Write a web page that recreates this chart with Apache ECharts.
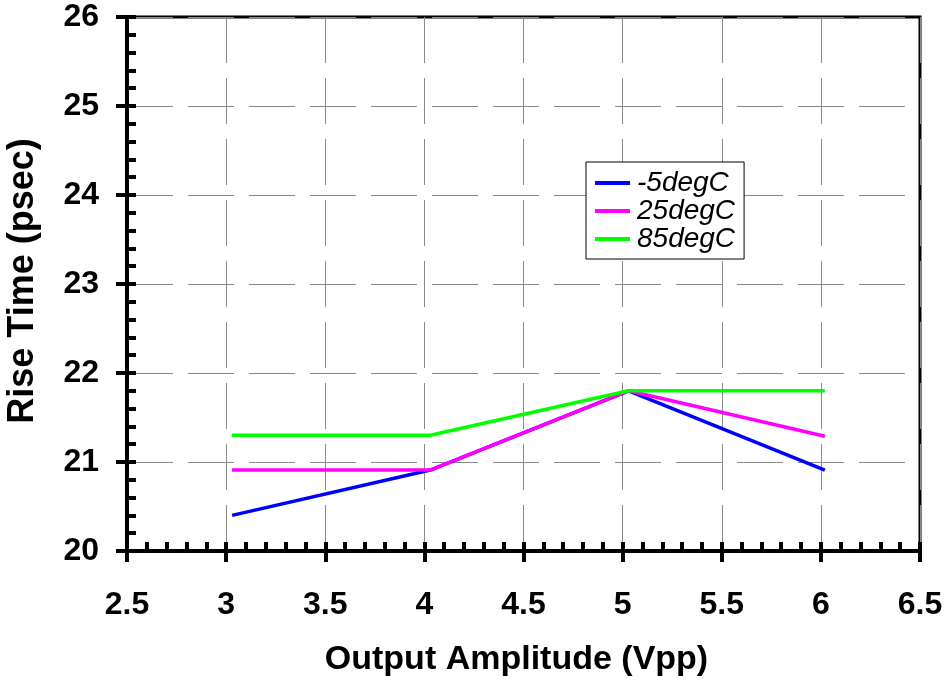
<!DOCTYPE html>
<html>
<head>
<meta charset="utf-8">
<script src="https://cdn.jsdelivr.net/npm/echarts@6/dist/echarts.min.js"></script>
<style>
  html, body { margin: 0; padding: 0; background: #fff; }
  #chart { width: 947px; height: 688px; }
</style>
</head>
<body>
<div id="chart"></div>
<script>
// Rise time vs. output amplitude at three temperatures
const amplitude = [3.03, 4.03, 5.03, 6.02];
const seriesNames = ['-5degC', '25degC', '85degC'];
const riseMinus5 = [20.40, 20.91, 21.80, 20.91];
const rise25 = [20.91, 20.91, 21.80, 21.29];
const rise85 = [21.30, 21.30, 21.80, 21.80];
const seriesColors = ['#0000ff', '#ff00ff', '#00ff00'];

const FONT = '"Liberation Sans", Arial, sans-serif';
const chart = echarts.init(document.getElementById('chart'), null, { renderer: 'canvas' });

function pairs(xs, ys) { return xs.map((x, i) => [x, ys[i]]); }

const gridSplit = { show: true, lineStyle: { color: '#8a8a8a', width: 1, type: [46, 15] } };

const option = {
  backgroundColor: '#ffffff',
  animation: false,
  grid: {
    left: 127, right: 27, top: 17, bottom: 137,
    containLabel: false, outerBoundsMode: 'none',
    show: true, borderColor: '#000', borderWidth: 3, backgroundColor: 'transparent'
  },
  legend: {
    orient: 'vertical',
    left: 586, top: 162,
    data: seriesNames,
    icon: 'rect',
    itemWidth: 35, itemHeight: 4,
    itemGap: 0,
    padding: [7, 9, 6, 9],
    backgroundColor: '#fff',
    borderColor: '#000', borderWidth: 1, borderRadius: 0,
    textStyle: { fontFamily: FONT, fontStyle: 'italic', fontSize: 28, color: '#000', lineHeight: 27.5, padding: [0, 0, 0, 2] }
  },
  xAxis: [
    {
      type: 'value', min: 2.5, max: 6.5, interval: 0.5,
      name: 'Output Amplitude (Vpp)', nameLocation: 'middle', nameGap: 92,
      nameTextStyle: { fontFamily: FONT, fontWeight: 'bold', fontSize: 34, color: '#000', padding: [0, 14, 0, 0] },
      axisLine: { show: true, onZero: false, lineStyle: { color: '#000', width: 4 } },
      axisTick: { show: true, inside: true, length: 9, lineStyle: { color: '#000', width: 4 } },
      minorTick: { show: true, splitNumber: 5, length: 9, lineStyle: { color: '#000', width: 4 } },
      axisLabel: { show: true, margin: 38, fontFamily: FONT, fontWeight: 'bold', fontSize: 32, color: '#000',
        formatter: v => String(+v.toFixed(1)) },
      splitLine: gridSplit
    },
    {
      type: 'value', min: 2.5, max: 6.5, interval: 0.5, position: 'bottom',
      axisLine: { show: false, onZero: false },
      axisTick: { show: true, inside: false, length: 11, lineStyle: { color: '#000', width: 4 } },
      axisLabel: { show: false }, splitLine: { show: false }
    }
  ],
  yAxis: [
    {
      type: 'value', min: 20, max: 26, interval: 1,
      name: 'Rise Time (psec)', nameLocation: 'middle', nameGap: 86, nameRotate: 90,
      nameTextStyle: { fontFamily: FONT, fontWeight: 'bold', fontSize: 36, color: '#000', padding: [0, 0, 0, 6] },
      axisLine: { show: true, onZero: false, lineStyle: { color: '#000', width: 4 } },
      axisTick: { show: true, inside: true, length: 9, lineStyle: { color: '#000', width: 4 } },
      minorTick: { show: true, splitNumber: 5, length: 9, lineStyle: { color: '#000', width: 4 } },
      axisLabel: { show: true, margin: 28, fontFamily: FONT, fontWeight: 'bold', fontSize: 32, color: '#000',
        padding: [3, 0, 0, 0] },
      splitLine: gridSplit
    },
    {
      type: 'value', min: 20, max: 26, interval: 1, position: 'left',
      axisLine: { show: false, onZero: false },
      axisTick: { show: true, inside: false, length: 11, lineStyle: { color: '#000', width: 4 } },
      axisLabel: { show: false }, splitLine: { show: false }
    }
  ],
  series: [
    { name: seriesNames[0], type: 'line', data: pairs(amplitude, riseMinus5) },
    { name: seriesNames[1], type: 'line', data: pairs(amplitude, rise25) },
    { name: seriesNames[2], type: 'line', data: pairs(amplitude, rise85) }
  ].map((s, i) => Object.assign(s, {
    xAxisIndex: 0, yAxisIndex: 0,
    showSymbol: false, symbol: 'none',
    color: seriesColors[i],
    lineStyle: { color: seriesColors[i], width: 3.5 },
    z: 3
  }))
};

chart.setOption(option);
</script>
</body>
</html>
